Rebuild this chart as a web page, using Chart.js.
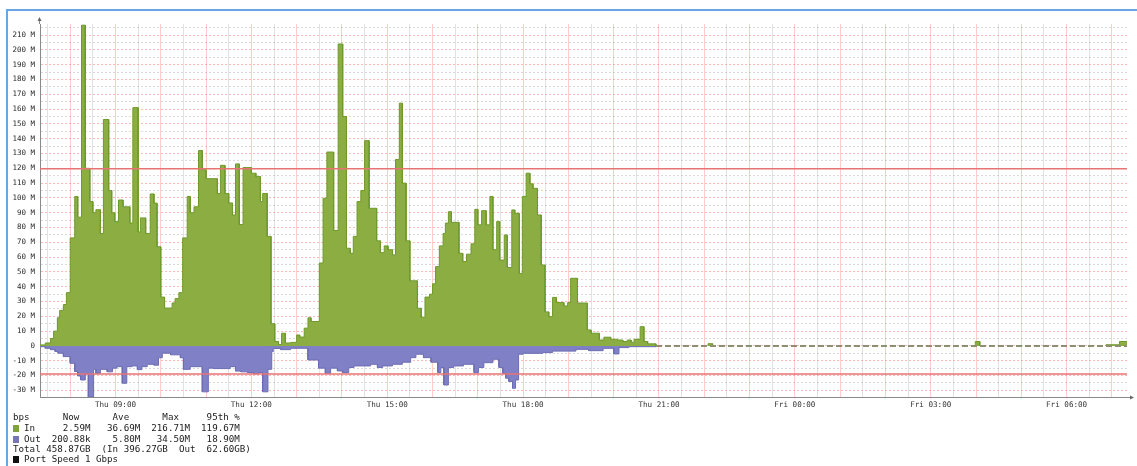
<!DOCTYPE html>
<html>
<head>
<meta charset="utf-8">
<script src="https://cdn.jsdelivr.net/npm/chart.js@4/dist/chart.umd.min.js"></script>
<style>
  html, body { margin:0; padding:0; background:#fff; }
  #wrap { position:relative; width:1137px; height:466px; overflow:hidden; background:#fff; }
  #frame { position:absolute; left:6px; top:9px; width:1140px; height:470px; border-top:2px solid #6aa7e2; border-left:2px solid #6aa7e2; }
  canvas { position:absolute; left:0; top:0; }
  .lg { position:absolute; left:13px; font-family:"DejaVu Sans Mono", monospace; font-size:9.2px; color:#222; white-space:pre; line-height:10px; }
  .box { position:absolute; left:13px; width:6px; height:7px; }
</style>
</head>
<body>
<div id="wrap">
  <div id="frame"></div>
  <canvas id="c" width="1137" height="466"></canvas>
  <div class="lg" style="top:412px">bps      Now      Ave      Max     95th %</div>
  <div class="box" style="top:425px;background:#7fa33a"></div>
  <div class="lg" style="top:423px">  In     2.59M   36.69M  216.71M  119.67M</div>
  <div class="box" style="top:436px;background:#7575b8"></div>
  <div class="lg" style="top:434px">  Out  200.88k    5.80M   34.50M   18.90M</div>
  <div class="lg" style="top:444px">Total 458.87GB  (In 396.27GB  Out  62.60GB)</div>
  <div class="box" style="top:456px;background:#111"></div>
  <div class="lg" style="top:454px">  Port Speed 1 Gbps</div>
</div>
<script>
// time in minutes since Thu 00:00 (sample start), values in Mbps
const inTimes = [440,447,454,458,463,466,471,475,480,486,490,495,500,506,510,514,520,524,531,535,539,544,550,559,563,570,573,580,586,591,595,600,605,615,619,624,629,635,639,644,650,655,660,675,679,685,690,695,699,704,709,720,726,732,735,741,746,751,756,760,765,772,780,784,790,795,799,810,815,820,829,835,841,846,851,855,860,865,870,876,886,891,896,901,907,911,916,920,925,930,940,945,950,956,960,964,969,974,977,981,985,995,1000,1005,1011,1016,1020,1025,1031,1036,1040,1045,1049,1055,1059,1065,1069,1075,1079,1084,1089,1093,1099,1104,1109,1114,1119,1124,1134,1139,1143,1152,1165,1170,1181,1187,1196,1205,1212,1218,1223,1227,1235,1240,1245,1256,1325,1331,1679,1685,1852,1870];
const inValues = [0.7,2,5,10,19,24,28,36,73,101,87,216.7,120,97.5,90,92,76,153,105,90,84,98.6,94,83,161,77,86.5,76,102.7,96.5,67,33,25.6,29,32,36,73,101,90,94,132,119,113,103,122,103,96.6,88.5,123,82,120.5,116.7,114.4,97.5,103,74,15,3,1,8.6,2,2.4,7.4,6,12,19,16.5,56,99.8,131,78,204,155,66,62.6,74,97.5,105,138.7,93,71,63,67.6,65,61.5,126,164,110,71,44,25.5,19.4,33,35,42,53.6,67.6,76,83,90.7,83.5,62.6,57,62,69,92.3,81.8,91.4,81.8,101,65,84,58,75,53,91.9,89.6,49,101,116.7,109.5,106.5,88.5,54.7,23,19.8,32.8,29.3,27,29.3,45.7,29,10.8,8.6,4,5.9,4.5,4,3,4,2.5,4.5,13,3,1.4,0,1.5,0,3,0,0.8,3];
const outTimes = [440,447,454,460,464,471,480,486,490,494,500,504,511,514,520,529,536,542,549,555,562,569,575,582,591,597,602,613,626,630,639,655,663,670,692,699,706,715,723,730,735,742,747,749,759,772,795,809,818,825,834,841,849,856,878,887,894,907,920,931,938,948,958,967,971,975,981,988,1001,1015,1021,1028,1040,1048,1053,1057,1061,1066,1070,1074,1080,1106,1119,1150,1167,1186,1200,1207,1220,1256];
const outValues = [-0.5,-1.6,-2.5,-3.8,-4.9,-7.2,-11.7,-17.3,-20.3,-23,-19,-34.5,-15.8,-18.5,-15.8,-17.5,-15,-14,-25.2,-14,-13.5,-16,-14,-12.4,-13,-8,-4.9,-6,-8,-15.8,-14,-31,-15,-15.3,-14,-17,-17.5,-18,-18.8,-18,-31,-15.8,-3.8,-1.7,-2.5,-1.6,-9.5,-15,-18.5,-15,-16.9,-18,-14.6,-13.5,-12.4,-14.6,-13.5,-12.4,-11,-7.9,-5.6,-7.9,-11,-18,-14.6,-26.4,-14.6,-13.5,-12.4,-18,-14.6,-11.3,-9,-14.6,-18.5,-21.8,-24,-28.6,-23,-5.6,-5,-4.5,-3.5,-2.3,-3.2,-1.6,-5.4,-1.1,-0.5,0];
const pct95In = 119.67;
const pct95Out = -18.90;
const idleStart = 1256;
const xMin = 440, xMax = 1880;
const yMin = -34.5, yMax = 217.5;
const xTickStep = 30, xLabelEvery = 180, xLabelAnchor = 540;
const yTickStep = 5, yLabelEvery = 10;

function steps(times, vals, end) {
  const pts = [];
  for (let i = 0; i < times.length; i++) {
    const t1 = i + 1 < times.length ? times[i + 1] : end;
    pts.push({x: times[i], y: vals[i]});
    pts.push({x: t1, y: vals[i]});
  }
  return pts;
}
function range(a, b, s) { const r = []; for (let v = a; v <= b + 1e-9; v += s) r.push(v); return r; }

const hideIdle = ctx => (ctx.p0.parsed.x >= idleStart && ctx.p0.parsed.y === 0 && ctx.p1.parsed.y === 0) ? 'rgba(0,0,0,0)' : undefined;

const axisDeco = {
  id: 'axisDeco',
  afterDraw(chart) {
    const {ctx, chartArea: a} = chart;
    ctx.save();
    ctx.strokeStyle = '#8a8a8a';
    ctx.fillStyle = '#666';
    ctx.lineWidth = 1;
    ctx.beginPath();
    ctx.moveTo(a.right, a.bottom + 0.5); ctx.lineTo(a.right + 4, a.bottom + 0.5);
    ctx.moveTo(a.left - 0.5, a.top); ctx.lineTo(a.left - 0.5, a.top - 4);
    ctx.stroke();
    ctx.beginPath();
    ctx.moveTo(a.right + 7, a.bottom + 0.5); ctx.lineTo(a.right + 3, a.bottom - 1.5); ctx.lineTo(a.right + 3, a.bottom + 2.5); ctx.closePath(); ctx.fill();
    ctx.beginPath();
    ctx.moveTo(a.left - 0.5, a.top - 7); ctx.lineTo(a.left - 2.5, a.top - 3); ctx.lineTo(a.left + 1.5, a.top - 3); ctx.closePath(); ctx.fill();
    ctx.restore();
  }
};

new Chart(document.getElementById('c'), {
  type: 'line',
  data: {
    datasets: [
      { label: '95th in', data: [{x: xMin, y: pct95In}, {x: xMax, y: pct95In}], borderColor: '#e87373', borderWidth: 1.5, pointRadius: 0, fill: false, order: 0 },
      { label: '95th out', data: [{x: xMin, y: pct95Out}, {x: xMax, y: pct95Out}], borderColor: '#e87373', borderWidth: 1.5, pointRadius: 0, fill: false, order: 0 },
      { label: 'idle', data: [{x: idleStart, y: 0}, {x: xMax, y: 0}], borderColor: '#8e8e70', borderWidth: 2, borderDash: [6, 3], pointRadius: 0, fill: false, order: 1 },
      { label: 'In', data: steps(inTimes, inValues, xMax), borderColor: '#6f9a2c', borderWidth: 1, backgroundColor: '#8cad42', pointRadius: 0, fill: 'origin', tension: 0, order: 2, segment: { borderColor: hideIdle } },
      { label: 'Out', data: steps(outTimes, outValues, xMax), borderColor: '#6d6db4', borderWidth: 1, backgroundColor: '#8080c6', pointRadius: 0, fill: 'origin', tension: 0, order: 3, segment: { borderColor: hideIdle } }
    ]
  },
  options: {
    responsive: false,
    animation: false,
    devicePixelRatio: 1,
    layout: { padding: { top: 24, right: 10, left: 0, bottom: 0 } },
    plugins: { legend: { display: false }, tooltip: { enabled: false } },
    scales: {
      x: {
        type: 'linear', min: xMin, max: xMax,
        afterBuildTicks(s) { s.ticks = range(450, 1860, xTickStep).map(v => ({value: v})); },
        afterFit(s) { s.height = 69; s.paddingLeft = 0; s.paddingRight = 0; },
        border: { color: '#8a8a8a', width: 1 },
        grid: {
          drawTicks: false,
          lineWidth: 1,
          color(ctx) {
            const v = ctx.tick && ctx.tick.value;
            return (v % 60 === 0) ? 'rgba(255,140,140,0.45)' : 'rgba(160,160,160,0.3)';
          }
        },
        ticks: {
          autoSkip: false, maxRotation: 0, minRotation: 0, padding: 3,
          color: '#333', font: { family: 'DejaVu Sans Mono', size: 7.6 },
          callback(v) {
            if ((v - xLabelAnchor) % xLabelEvery !== 0) return '';
            const day = v >= 1440 ? 'Fri' : 'Thu';
            const m = v % 1440;
            const hh = String(Math.floor(m / 60)).padStart(2, '0');
            const mm = String(m % 60).padStart(2, '0');
            return day + ' ' + hh + ':' + mm;
          }
        }
      },
      y: {
        type: 'linear', min: yMin, max: yMax,
        afterBuildTicks(s) { s.ticks = range(-30, 215, yTickStep).map(v => ({value: v})); },
        afterFit(s) { s.width = 40; s.paddingTop = 0; s.paddingBottom = 0; },
        border: { color: '#8a8a8a', width: 1, dash: [2, 2] },
        grid: {
          drawTicks: false,
          lineWidth: 1,
          color(ctx) {
            const v = ctx.tick && ctx.tick.value;
            return (Math.abs(v) % yLabelEvery === 0) ? 'rgba(255,130,130,0.55)' : 'rgba(150,150,150,0.35)';
          }
        },
        ticks: {
          autoSkip: false, padding: 5,
          color: '#2a2a2a', font: { family: 'DejaVu Sans Mono', size: 7.5 },
          callback(v) {
            if (Math.abs(v) % yLabelEvery !== 0) return '';
            return v === 0 ? '0' : v + ' M';
          }
        }
      }
    }
  },
  plugins: [axisDeco]
});
</script>
</body>
</html>
